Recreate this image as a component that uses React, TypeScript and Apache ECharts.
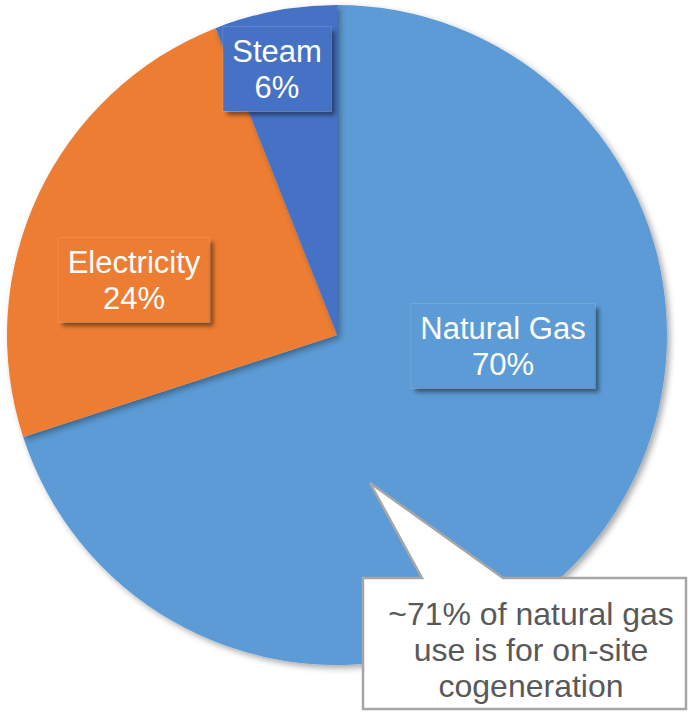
import React, { useEffect, useRef } from "react";
import * as echarts from "echarts";

const categories = ["Natural Gas", "Electricity", "Steam"];
const shares = [70, 24, 6];
const colors = ["#5B9BD5", "#ED7D31", "#4472C4"];
const calloutLines = ["~71% of natural gas", "use is for on-site", "cogeneration"];

const labelPos: [number, number][] = [
  [503, 346],
  [134, 280],
  [277, 69],
];

export default function App() {
  const ref = useRef<HTMLDivElement>(null);
  useEffect(() => {
    document.body.style.margin = "0";
    const chart = echarts.init(ref.current!, null, { renderer: "svg" });
    chart.setOption({
      animation: false,
      backgroundColor: "#ffffff",
      series: [
        {
          type: "pie",
          center: [337, 335],
          radius: 330,
          startAngle: 90,
          clockwise: true,
          silent: true,
          data: categories.map((c, i) => ({
            name: c,
            value: shares[i],
            itemStyle: { color: colors[i] },
            label: { backgroundColor: colors[i] },
          })),
          itemStyle: {
            borderWidth: 0,
            shadowBlur: 6,
            shadowOffsetX: 3,
            shadowOffsetY: 3,
            shadowColor: "rgba(0,0,0,0.35)",
          },
          label: {
            show: true,
            position: "inside",
            formatter: "{b}\n{d}%",
            color: "#ffffff",
            fontFamily: "Liberation Sans, Arial, sans-serif",
            fontSize: 31,
            lineHeight: 36,
            padding: [7, 9, 5, 9],
            borderColor: "rgba(255,255,255,0.12)",
            borderWidth: 1,
            shadowColor: "rgba(0,0,0,0.45)",
            shadowBlur: 4,
            shadowOffsetX: 4,
            shadowOffsetY: 4,
          },
          labelLine: { show: false },
          labelLayout: (params: any) => {
            const p = labelPos[params.dataIndex];
            return { x: p[0], y: p[1] };
          },
        },
      ],
      graphic: [
        {
          type: "polygon",
          shape: {
            points: [
              [363, 578],
              [422, 578],
              [370, 483],
              [503, 578],
              [686, 578],
              [686, 709],
              [363, 709],
            ],
          },
          style: { fill: "#ffffff", stroke: "#A6A6A6", lineWidth: 2.5 },
          z: 100,
        },
        {
          type: "text",
          x: 531,
          y: 650,
          z: 101,
          style: {
            text: calloutLines.join("\n"),
            fill: "#595959",
            font: "32px 'Liberation Sans', Arial, sans-serif",
            lineHeight: 36,
            align: "center",
            verticalAlign: "middle",
          },
        },
      ],
    });
    return () => chart.dispose();
  }, []);
  return <div ref={ref} style={{ width: 688, height: 717 }} />;
}
